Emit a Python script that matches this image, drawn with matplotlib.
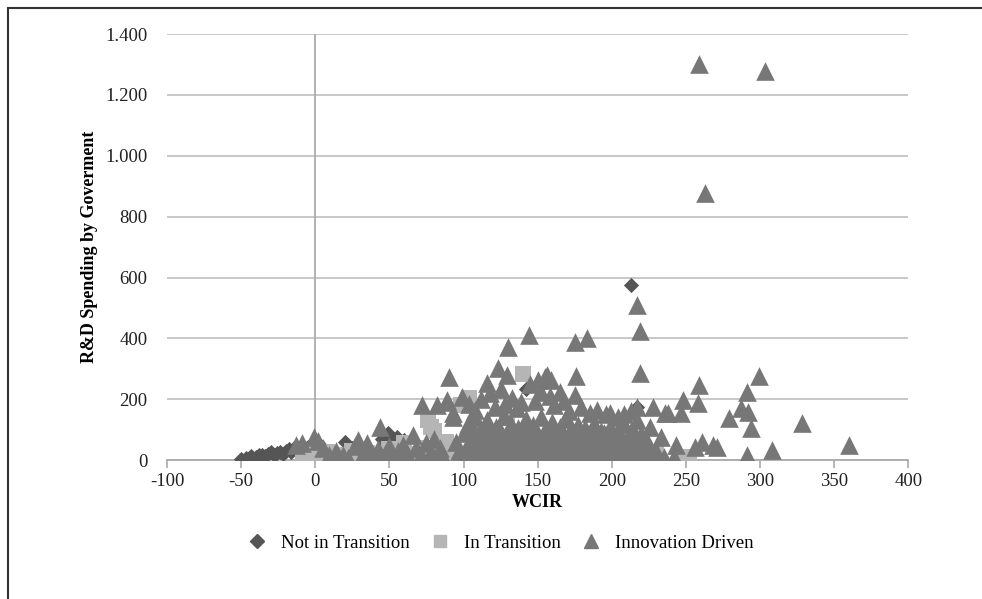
"""Scatter of government R&D spending against WCIR, split by transition group."""
import matplotlib
matplotlib.use("Agg")
import matplotlib.pyplot as plt
from matplotlib.lines import Line2D
from matplotlib.ticker import FuncFormatter

plt.rcParams["axes.unicode_minus"] = False

# --- data ---
not_x = [-50, -47, -45, -43, -40, -38, -36, -34, -32, -30, -28, -26, -24, -22, -20,
         -18, -16, -14, -12, -10, -8, -5, -3, 0, 3, 20, 25, 45, 49, 52, 55, 60, 105,
         120, 130, 142, 213, 217]
not_y = [3, 8, 5, 12, 10, 15, 18, 12, 20, 25, 15, 22, 28, 20, 30, 35, 25, 38, 32, 40,
         45, 42, 50, 55, 48, 59, 40, 70, 89, 60, 75, 65, 30, 80, 60, 233, 575, 175]

trans_x = [-8, -5, -2, 0, 3, 5, 8, 10, 12, 15, 20, 25, 30, 35, 40, 45, 50, 55, 58, 60,
           65, 70, 75, 76, 78, 80, 85, 88, 95, 98, 104, 110, 120, 129, 135, 140, 150,
           160, 170, 180, 200, 230, 249, 252]
trans_y = [5, 10, 20, 8, 15, 3, 25, 12, 5, 18, 8, 30, 10, 22, 5, 15, 35, 10, 25, 55,
           5, 20, 40, 131, 110, 95, 30, 60, 15, 181, 204, 20, 3, 138, 25, 282, 5,
           10, 30, 15, 8, 20, 8, 10]

innov_x = [
    # left of the dense block
    -13, -9, -1, 2, 5, 9, 14, 19, 22, 27, 29, 33, 35, 38, 42, 44, 47, 50, 53, 56,
    59, 62, 66, 68, 71, 72, 75, 78, 80, 82, 84, 86, 89, 89, 90, 93, 93, 95, 97, 99,
    # dense block, low
    101, 103, 105, 107, 109, 111, 113, 115, 117, 119, 121, 123, 125, 127, 129, 131,
    133, 135, 137, 139, 141, 143, 145, 147, 149, 151, 153, 155, 157, 159, 161, 163,
    165, 167, 169, 171, 173, 175, 177, 179, 181, 183, 185, 187, 189, 191, 193, 195,
    197, 199, 201, 203, 205, 207, 209, 211, 213, 215, 218, 221, 224, 227, 230,
    # dense block, middle
    100, 103, 106, 108, 111, 114, 116, 119, 122, 124, 127, 130, 132, 135, 137, 140,
    142, 145, 147, 150, 152, 155, 157, 160, 162, 165, 167, 170, 172, 175, 177, 180,
    182, 185, 188, 190, 193, 196, 199, 202, 205, 208, 211, 214, 217, 220, 223, 226,
    # extra fill of the dense block
    104, 110, 117, 126, 134, 143, 151, 158, 166, 174, 183, 192, 201, 210, 219,
    107, 115, 124, 133, 141, 149, 158, 167, 176, 186, 195, 204, 213,
    # dense block, upper
    104, 108, 112, 116, 118, 121, 123, 125, 128, 129, 133, 136, 139, 145, 148, 150,
    152, 155, 156, 158, 159, 161, 165, 168, 171, 175, 176, 179, 185, 190, 196, 199,
    204, 208, 213, 217, 219, 228, 236,
    # high outliers
    130, 144, 175, 183, 217, 219, 259, 303, 263,
    # right tail
    233, 235, 242, 243, 247, 238, 248, 256, 258, 259, 261, 268, 271, 279, 287, 291,
    292, 294, 291, 299, 308, 328, 360,
]
innov_y = [
    48, 55, 76, 62, 40, 16, 30, 16, 8, 45, 66, 25, 56, 15, 35, 108, 20, 45, 10, 30,
    50, 20, 82, 40, 15, 181, 55, 25, 70, 181, 40, 10, 191, 197, 272, 154, 141, 60, 30, 207,
    10, 40, 5, 25, 55, 15, 35, 8, 50, 20, 5, 45, 15, 30, 60, 10,
    40, 20, 55, 5, 30, 12, 45, 25, 8, 50, 18, 35, 5, 40, 20, 55,
    10, 30, 45, 5, 25, 15, 50, 8, 35, 20, 45, 10, 30, 5, 40, 20,
    55, 10, 30, 15, 45, 8, 25, 50, 12, 35, 20, 5, 40, 15, 30,
    90, 120, 75, 140, 100, 65, 130, 85, 110, 70, 145, 95, 120, 80, 105, 65,
    135, 90, 115, 70, 140, 100, 75, 125, 90, 110, 70, 135, 95, 80, 115, 65,
    105, 85, 120, 70, 95, 80, 110, 65, 90, 120, 75, 100, 130, 85, 70, 110,
    60, 45, 70, 55, 75, 50, 65, 80, 45, 60, 70, 50, 75, 55, 60,
    100, 95, 105, 110, 95, 100, 105, 90, 100, 95, 90, 100, 95,
    185, 165, 200, 253, 220, 175, 302, 235, 185, 279, 205, 170, 190, 250, 195, 262,
    225, 272, 279, 210, 263, 180, 224, 195, 160, 214, 276, 175, 155, 165, 150, 154,
    140, 150, 160, 175, 285, 175, 154,
    372, 411, 388, 400, 509, 424, 1301, 1278, 877,
    76, 10, 10, 49, 154, 154, 197, 43, 187, 246, 59, 49, 43, 138, 171, 224,
    158, 105, 16, 276, 33, 122, 49,
]

series_names = ["Not in Transition", "In Transition", "Innovation Driven"]

fig = plt.figure(figsize=(9.82, 5.99), dpi=100)
ax = fig.add_axes([0.170, 0.232, 0.755, 0.711])
serif = "Liberation Serif"

ax.scatter(not_x, not_y, marker="D", s=60, color="#555555", linewidths=0, zorder=3)
ax.scatter(trans_x, trans_y, marker="s", s=140, color="#b5b5b5", linewidths=0, zorder=3)
ax.scatter(innov_x, innov_y, marker="^", s=180, color="#777777", linewidths=0, zorder=4)

ax.set_xlim(-100, 400)
ax.set_ylim(0, 1400)
ax.set_xticks(range(-100, 401, 50))
ax.set_yticks(range(0, 1401, 200))
ax.yaxis.set_major_formatter(FuncFormatter(lambda v, _: f"{int(v):,}".replace(",", ".")))

ax.grid(axis="y", color="#c4c4c4", linewidth=1.3)
ax.set_axisbelow(True)
ax.axvline(0, color="#aaaaaa", linewidth=1.3, zorder=1)
for side in ("left", "right", "top"):
    ax.spines[side].set_visible(False)
ax.spines["bottom"].set_color("#aaaaaa")
ax.spines["bottom"].set_linewidth(1.3)
ax.tick_params(axis="x", direction="out", length=6, color="#aaaaaa", width=1.2, pad=3)
ax.tick_params(axis="y", length=0, pad=14)
for lab in ax.get_xticklabels() + ax.get_yticklabels():
    lab.set_fontfamily(serif)
    lab.set_fontsize(13.5)
    lab.set_color("#222222")

ax.set_xlabel("WCIR", fontfamily=serif, fontsize=13, fontweight="bold", labelpad=3)
ax.set_ylabel("R&D Spending by Goverment", fontfamily=serif, fontsize=13,
              fontweight="bold", labelpad=5)

handles = [
    Line2D([], [], marker="D", linestyle="none", color="#555555", markersize=7),
    Line2D([], [], marker="s", linestyle="none", color="#b5b5b5", markersize=9),
    Line2D([], [], marker="^", linestyle="none", color="#777777", markersize=10),
]
fig.legend(handles, series_names, loc="center", bbox_to_anchor=(0.505, 0.093), ncol=3,
           frameon=False, prop={"family": serif, "size": 13.5}, handletextpad=0.3,
           columnspacing=0.6)

# frame around the chart area (only left/top edges fall inside the image)
fig.add_artist(Line2D([8 / 982, 8 / 982], [0, 1 - 8 / 599], color="#333333", linewidth=1.5))
fig.add_artist(Line2D([8 / 982, 1], [1 - 8 / 599, 1 - 8 / 599], color="#333333", linewidth=1.5))

fig.savefig("out.png", dpi=100)
plt.close(fig)
